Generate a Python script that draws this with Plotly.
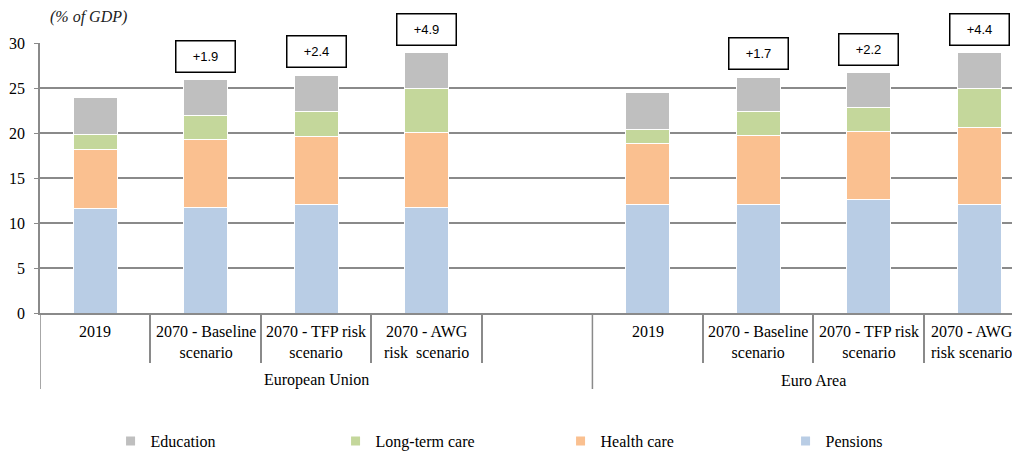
import plotly.graph_objects as go

# categories (EU block has an empty 5th slot, as in the original Excel chart)
groups = ["European Union"] * 5 + ["Euro Area"] * 4
scenarios = ["2019", "2070 - Baseline<br>scenario", "2070 - TFP risk<br>scenario",
             "2070 - AWG<br>risk  scenario", "",
             "2019", "2070 - Baseline<br>scenario", "2070 - TFP risk<br>scenario",
             "2070 - AWG<br>risk scenario"]

# % of GDP (None = empty slot)
pensions = [11.6, 11.7, 12.1, 11.7, None, 12.1, 12.1, 12.6, 12.1]
health_care = [6.6, 7.55, 7.5, 8.4, None, 6.7, 7.6, 7.6, 8.5]
long_term_care = [1.6, 2.65, 2.8, 4.8, None, 1.6, 2.65, 2.6, 4.4]
education = [4.2, 4.0, 4.0, 4.0, None, 4.1, 3.85, 3.9, 3.9]

# change vs 2019, shown in boxes above the 2070 bars
change_labels = [None, "+1.9", "+2.4", "+4.9", None, None, "+1.7", "+2.2", "+4.4"]

series = [
    ("Pensions", pensions, "#B9CDE5"),
    ("Health care", health_care, "#FAC090"),
    ("Long-term care", long_term_care, "#C4D79B"),
    ("Education", education, "#BFBFBF"),
]

serif = "Liberation Serif, Times New Roman, serif"
grid_col = "#8a8a8a"
slots = list(range(len(scenarios)))
x_range = [-0.5, 8.37]

# page body adds an 8px margin, so the figure is 8px smaller than the window
W, H = 1012, 444
M_L, M_T, PLOT_H = 32, 35, 270

fig = go.Figure()
for name, vals, col in series:
    fig.add_trace(go.Bar(
        x=slots, y=vals, name=name, showlegend=False,
        marker=dict(color=col, line=dict(color="white", width=1)),
        width=0.4,
    ))
    # small square swatch for the legend, like the Excel one
    fig.add_trace(go.Scatter(
        x=[None], y=[None], name=name, mode="markers",
        marker=dict(symbol="square", size=9, color=col),
    ))

# boxed change labels, sitting just above each stack
for i, lab in enumerate(change_labels):
    if lab is None:
        continue
    total = pensions[i] + health_care[i] + long_term_care[i] + education[i]
    fig.add_annotation(
        x=i, y=total, xref="x", yref="y", yanchor="bottom", yshift=7,
        text=lab, showarrow=False, width=56, height=28,
        bordercolor="black", borderwidth=1.5, borderpad=1, bgcolor="white",
        font=dict(family="Liberation Sans, Arial, sans-serif", size=13, color="black"),
    )

# category labels (inner level) under each slot; the last one is
# nudged left so it stays inside the window, as Excel does
for i, lab in enumerate(scenarios):
    if not lab:
        continue
    fig.add_annotation(
        x=i, y=0, xref="x", yref="paper", yanchor="top", yshift=-8,
        xshift=-7 if i == len(scenarios) - 1 else 0,
        text=lab, showarrow=False, font=dict(family=serif, size=16, color="black"),
    )

# group labels (outer level) and the group dividers
prev = None
for i, g in enumerate(groups):
    if g != prev:
        members = [j for j, gg in enumerate(groups) if gg == g]
        fig.add_annotation(
            x=sum(members) / len(members), y=0, xref="x", yref="paper",
            yanchor="middle", yshift=-67, text=g, showarrow=False,
            font=dict(family=serif, size=16, color="black"),
        )
        fig.add_shape(type="line", xref="x", yref="paper", x0=i - 0.5, x1=i - 0.5,
                      y0=0, y1=-76 / PLOT_H, line=dict(color=grid_col, width=1.5))
    prev = g

fig.add_annotation(
    text="<i>(% of GDP)</i>", xref="paper", yref="paper", x=0.008,
    y=(PLOT_H + M_T + 8 - 17) / PLOT_H,
    xanchor="left", yanchor="middle", showarrow=False,
    font=dict(family=serif, size=16, color="#222222"),
)

# inner tick marks sit on the boundaries between slots within a group
bounds = [i + 0.5 for i in slots[:-1] if groups[i] == groups[i + 1]]

fig.update_layout(
    barmode="stack",
    width=W, height=H,
    margin=dict(l=M_L, r=0, t=M_T, b=H - M_T - PLOT_H),
    plot_bgcolor="white", paper_bgcolor="white",
    font=dict(family=serif, size=16, color="black"),
    showlegend=True,
    legend=dict(
        orientation="h", traceorder="reversed",
        x=0.072, xanchor="left", yref="container", y=(H - 433) / H, yanchor="middle",
        entrywidth=180, font=dict(family=serif, size=16),
    ),
    xaxis=dict(
        range=x_range, automargin=False,
        showline=True, linecolor=grid_col, linewidth=1.5,
        tickmode="array", tickvals=bounds, showticklabels=False,
        ticks="outside", ticklen=48, tickcolor=grid_col, tickwidth=1.5,
        showgrid=False, zeroline=False,
    ),
    yaxis=dict(
        range=[0, 30], dtick=5, automargin=False,
        showgrid=True, gridcolor=grid_col, gridwidth=1.5,
        showline=True, linecolor=grid_col, linewidth=1.5,
        ticks="outside", ticklen=4, tickcolor=grid_col, ticklabelstandoff=6,
        tickfont=dict(family=serif, size=16), zeroline=False,
    ),
)

fig.write_html("out.html")
